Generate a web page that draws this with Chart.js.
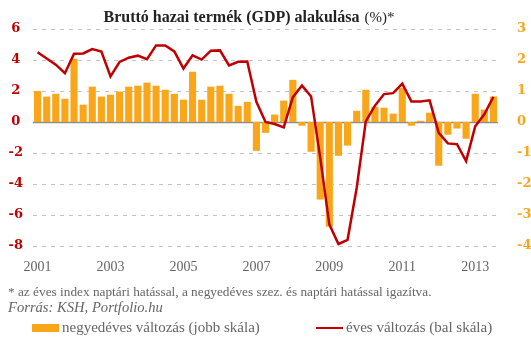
<!DOCTYPE html>
<html>
<head>
<meta charset="utf-8">
<script src="https://cdn.jsdelivr.net/npm/chart.js@4.4.0/dist/chart.umd.min.js"></script>
<style>
  html, body { margin: 0; padding: 0; background: #fff; }
  #wrap { width: 531px; height: 342px; position: relative; }
</style>
</head>
<body>
<div id="wrap"><canvas id="gdp-chart"></canvas></div>
<script>
// quarters 2001 I. - 2013 III.
const years = [2001, 2002, 2003, 2004, 2005, 2006, 2007, 2008, 2009, 2010, 2011, 2012, 2013];
const quarterNames = ['I.', 'II.', 'III.', 'IV.'];
const categories = years.flatMap(y => quarterNames.map(q => y + '. ' + q + ' n.év')).slice(0, 51);
const yearLabels = ['2001', '2003', '2005', '2007', '2009', '2011', '2013'];

// negyedéves változás (jobb skála), %
const quarterlyChange = [
    1.0, 0.82, 0.91, 0.75, 2.04, 0.56, 1.14, 0.82, 0.88, 0.98,
    1.14, 1.17, 1.27, 1.17, 1.04, 0.91, 0.72, 1.62, 0.72, 1.14,
    1.17, 0.91, 0.52, 0.65, -0.93, -0.35, 0.24, 0.69, 1.36, -0.12,
    -0.96, -2.5, -3.38, -1.09, -0.76, 0.36, 1.04, 0.49, 0.46, 0.27,
    1.1, -0.12, 0.04, 0.3, -1.41, -0.41, -0.21, -0.54, 0.91, 0.4,
    0.82
];

// éves változás (bal skála), %
const annualChange = [
    4.5, 4.1, 3.7, 3.15, 4.4, 4.42, 4.7, 4.55, 2.94, 3.88,
    4.15, 4.28, 4.05, 4.94, 4.94, 4.55, 3.45, 4.3, 4.03, 4.6,
    4.62, 3.65, 3.88, 3.9, 1.3, 0.0, -0.13, -0.35, 1.6, 2.35,
    1.65, -2.3, -6.6, -7.87, -7.6, -4.26, 0.04, 1.05, 1.8, 1.86,
    2.47, 1.33, 1.33, 1.4, -0.7, -1.38, -1.43, -2.52, -0.28, 0.5,
    1.63
];

const leftRange = { min: -8, max: 6, step: 2 };
const rightRange = { min: -4, max: 3, step: 1 };

const titleMain = 'Bruttó hazai termék (GDP) alakulása';
const titleUnit = '(%)*';
const footnote = '* az éves index naptári hatással, a negyedéves szez. és naptári hatással igazítva.';
const sourceNote = 'Forrás: KSH, Portfolio.hu';

const ORANGE = '#F9A61A';
const RED = '#C00000';
const SERIF = '"Liberation Serif", "DejaVu Serif", serif';

// solid grey zero line, under the bars
const zeroLinePlugin = {
    id: 'zeroLine',
    beforeDatasetsDraw(chart) {
        const c = chart.ctx;
        const area = chart.chartArea;
        const y = Math.round(chart.scales.yLeft.getPixelForValue(0)) + 0.5;
        c.save();
        c.strokeStyle = '#8c8c8c';
        c.lineWidth = 1.5;
        c.beginPath();
        c.moveTo(area.left, y);
        c.lineTo(area.right, y);
        c.stroke();
        c.restore();
    }
};

const decorPlugin = {
    id: 'decor',
    afterDraw(chart) {
        const c = chart.ctx;
        c.save();
        c.textBaseline = 'alphabetic';
        c.textAlign = 'left';

        // title: bold main part + normal unit
        c.font = 'bold 16px ' + SERIF;
        const w1 = c.measureText(titleMain).width;
        c.font = '15px ' + SERIF;
        const w2 = c.measureText(titleUnit).width;
        const tx = 249 - (w1 + 5 + w2) / 2;
        c.fillStyle = '#222';
        c.font = 'bold 16px ' + SERIF;
        c.fillText(titleMain, tx, 22);
        c.font = '15px ' + SERIF;
        c.fillText(titleUnit, tx + w1 + 5, 22);

        // notes
        c.fillStyle = '#666';
        c.font = '13.3px ' + SERIF;
        c.fillText(footnote, 8, 296);
        c.font = 'italic 14.6px ' + SERIF;
        c.fillText(sourceNote, 8, 312);

        // legend
        const ds = chart.data.datasets;
        c.font = '15px ' + SERIF;
        c.fillStyle = ds[1].backgroundColor;
        c.fillRect(32, 324, 27, 8);
        c.fillStyle = '#666';
        c.fillText(ds[1].label, 62, 332);

        c.strokeStyle = ds[0].borderColor;
        c.lineWidth = 2;
        c.beginPath();
        c.moveTo(316, 328);
        c.lineTo(343, 328);
        c.stroke();
        c.fillText(ds[0].label, 346, 332);
        c.restore();
    }
};

const ctx = document.getElementById('gdp-chart').getContext('2d');

new Chart(ctx, {
    data: {
        labels: categories,
        datasets: [{
            type: 'line',
            label: 'éves változás (bal skála)',
            data: annualChange,
            yAxisID: 'yLeft',
            borderColor: RED,
            borderWidth: 2.5,
            pointRadius: 0,
            tension: 0,
            order: 0
        }, {
            type: 'bar',
            label: 'negyedéves változás (jobb skála)',
            data: quarterlyChange,
            yAxisID: 'yRight',
            backgroundColor: ORANGE,
            barPercentage: 0.78,
            categoryPercentage: 1.0,
            order: 1
        }]
    },
    options: {
        responsive: true,
        maintainAspectRatio: false,
        animation: false,
        layout: { padding: { top: 29, bottom: 0, left: 0, right: 0 } },
        plugins: {
            legend: { display: false },
            title: { display: false },
            tooltip: { enabled: false }
        },
        scales: {
            x: {
                grid: { display: false },
                border: { display: false },
                afterFit: (scale) => { scale.height = 96; },
                ticks: {
                    autoSkip: false,
                    maxRotation: 0,
                    padding: 5,
                    color: '#666',
                    font: { family: SERIF, size: 14 },
                    callback: function(value, index) {
                        const label = categories[index];
                        const year = label.slice(0, 4);
                        return (label.indexOf(' I. ') > 0 && yearLabels.includes(year)) ? year : '';
                    }
                }
            },
            yLeft: {
                position: 'left',
                min: leftRange.min,
                max: leftRange.max,
                afterFit: (scale) => { scale.width = 33; },
                grid: {
                    color: '#c4c4c4',
                    lineWidth: 1,
                    drawTicks: false
                },
                border: {
                    display: false,
                    dash: [4, 5]
                },
                ticks: {
                    stepSize: leftRange.step,
                    crossAlign: 'center',
                    padding: 10,
                    color: RED,
                    font: { family: '"DejaVu Serif", serif', size: 13, weight: 'bold' }
                }
            },
            yRight: {
                position: 'right',
                min: rightRange.min,
                max: rightRange.max,
                afterFit: (scale) => { scale.width = 33; },
                grid: { display: false },
                border: { display: false },
                ticks: {
                    stepSize: rightRange.step,
                    padding: 11,
                    color: ORANGE,
                    font: { family: '"DejaVu Serif", serif', size: 13, weight: 'bold' }
                }
            }
        }
    },
    plugins: [zeroLinePlugin, decorPlugin]
});
</script>
</body>
</html>
